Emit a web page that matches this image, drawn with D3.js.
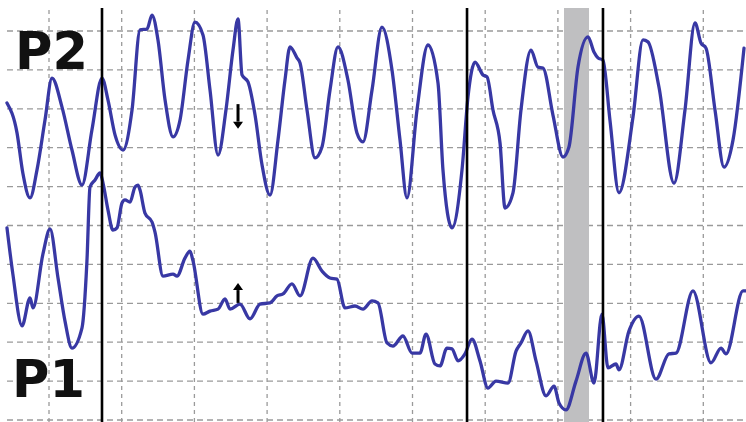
<!DOCTYPE html>
<html>
<head>
<meta charset="utf-8">
<script src="https://cdn.jsdelivr.net/npm/d3@7/dist/d3.min.js"></script>
<style>
  html, body { margin: 0; padding: 0; background: #fff; }
  svg { display: block; }
</style>
</head>
<body>
<svg id="chart" width="746" height="422"></svg>
<script>
// Time in grid divisions, amplitude in grid divisions.
const p2Time = [0.422,0.56,0.64,0.739,0.835,0.945,1.041,1.178,1.316,1.454,1.591,1.729,1.811,1.908,2.018,2.142,2.252,2.348,2.417,2.499,2.596,2.706,2.802,2.912,3.008,3.118,3.215,3.325,3.434,3.531,3.600,3.655,3.737,3.834,3.930,4.040,4.150,4.246,4.315,4.411,4.453,4.549,4.659,4.755,4.865,4.975,5.112,5.236,5.319,5.443,5.580,5.718,5.828,5.924,6.062,6.213,6.351,6.419,6.543,6.681,6.763,6.860,6.970,7.025,7.107,7.204,7.273,7.382,7.492,7.630,7.726,7.795,7.932,8.070,8.152,8.276,8.414,8.496,8.551,8.620,8.716,8.840,9.033,9.170,9.239,9.390,9.597,9.748,9.886,9.968,10.037,10.161,10.285,10.409,10.560];
const p2Value = [8.15,7.38,6.35,5.71,6.43,7.71,8.79,8.05,6.94,6.04,7.46,8.79,8.23,7.33,6.94,7.97,10.03,10.05,10.41,9.77,8.23,7.28,7.71,9.25,10.23,9.90,8.48,6.81,7.97,9.51,10.31,8.87,8.69,7.84,6.56,5.78,7.20,8.74,9.59,9.31,9.18,7.97,6.74,7.02,8.48,9.59,8.74,7.38,7.15,8.48,10.10,9.00,7.20,5.71,7.97,9.64,8.66,6.43,4.94,6.43,8.30,9.20,8.87,8.82,7.97,7.12,5.45,5.84,7.97,9.51,9.07,9.05,7.84,6.76,7.02,9.07,9.85,9.46,9.31,9.25,7.71,5.84,7.79,9.77,9.72,8.56,6.09,7.97,10.21,9.69,9.56,7.97,6.50,7.20,9.56];

const p1Time = [0.422,0.503,0.629,0.739,0.780,0.917,1.014,1.124,1.220,1.316,1.454,1.522,1.564,1.633,1.702,1.743,1.811,1.880,1.935,2.004,2.045,2.114,2.183,2.224,2.252,2.320,2.417,2.458,2.568,2.706,2.761,2.870,2.939,2.981,3.118,3.215,3.325,3.421,3.490,3.627,3.765,3.902,4.040,4.136,4.219,4.342,4.453,4.631,4.755,4.865,4.961,5.071,5.209,5.319,5.443,5.525,5.649,5.731,5.869,5.993,6.103,6.186,6.309,6.378,6.474,6.543,6.626,6.722,6.818,6.928,7.038,7.148,7.314,7.424,7.492,7.589,7.699,7.837,7.947,8.015,8.111,8.249,8.387,8.496,8.606,8.689,8.799,8.840,8.978,9.115,9.349,9.528,9.624,9.858,10.106,10.244,10.312,10.546,10.587];
const p1Value = [4.94,3.75,2.42,3.14,2.88,4.27,4.91,3.65,2.54,1.85,2.37,4.09,5.99,6.17,6.35,6.09,5.40,4.88,4.94,5.58,5.66,5.60,5.99,6.04,5.91,5.32,5.09,4.83,3.70,3.75,3.70,4.16,4.34,4.09,2.72,2.80,2.85,3.11,2.85,2.98,2.60,2.98,3.01,3.19,3.24,3.50,3.19,4.16,3.83,3.65,3.62,2.88,2.93,2.85,3.06,3.01,1.98,1.90,2.16,1.72,1.72,2.21,1.44,1.39,1.85,1.83,1.52,1.70,2.08,1.52,0.82,1.00,0.95,1.77,1.98,2.29,1.52,0.62,0.87,0.44,0.26,1.00,1.72,0.95,2.72,1.34,1.44,1.29,2.29,2.67,1.05,1.70,1.72,3.32,1.47,1.85,1.70,3.32,3.32];

// Grid ticks
const timeTicks = [1,2,3,4,5,6,7,8,9,10];
const ampTicks = [0,1,2,3,4,5,6,7,8,9,10];

// Event markers and highlighted interval
const eventTimes = [1.729, 6.750, 8.620];
const bandStart = [8.084];
const bandEnd = [8.428];

// Arrows: time, tail amplitude, tip amplitude
const arrowTime = [3.6, 3.6];
const arrowTail = [8.12, 3.01];
const arrowTip = [7.49, 3.52];

const traceLabels = ["P2", "P1"];

const W = 746, H = 422;
const svg = d3.select("#chart");

const x = d3.scaleLinear().domain([0, 10]).range([-23.7, 703.3]);
const y = d3.scaleLinear().domain([0, 10]).range([420, 31]);

// Dashed grid
const grid = svg.append("g");
grid.selectAll("line.h").data(ampTicks).join("line")
  .attr("x1", 7).attr("x2", W)
  .attr("y1", d => y(d)).attr("y2", d => y(d))
  .attr("stroke", "#9a9a9a").attr("stroke-width", 1.3)
  .attr("stroke-dasharray", "6,4");
grid.selectAll("line.v").data(timeTicks).join("line")
  .attr("x1", d => x(d)).attr("x2", d => x(d))
  .attr("y1", 10).attr("y2", H)
  .attr("stroke", "#9a9a9a").attr("stroke-width", 1.3)
  .attr("stroke-dasharray", "4,4");

// Highlighted interval
svg.append("rect")
  .attr("x", x(bandStart[0]))
  .attr("y", 8)
  .attr("width", x(bandEnd[0]) - x(bandStart[0]))
  .attr("height", H - 8)
  .attr("fill", "#bfbfc1");

// Traces
const line = d3.line()
  .x(d => x(d[0])).y(d => y(d[1]))
  .curve(d3.curveMonotoneX);

const traces = [d3.zip(p2Time, p2Value), d3.zip(p1Time, p1Value)];
svg.append("g").selectAll("path").data(traces).join("path")
  .attr("d", line)
  .attr("fill", "none")
  .attr("stroke", "#3838a4")
  .attr("stroke-width", 3.3)
  .attr("stroke-linejoin", "round")
  .attr("stroke-linecap", "round");

// Event markers
svg.append("g").selectAll("line").data(eventTimes).join("line")
  .attr("x1", d => x(d)).attr("x2", d => x(d))
  .attr("y1", 8).attr("y2", H)
  .attr("stroke", "#000").attr("stroke-width", 2.6);

// Arrows
const arrows = d3.range(arrowTime.length).map(i => ({t: arrowTime[i], a: arrowTail[i], b: arrowTip[i]}));
const ag = svg.append("g");
arrows.forEach(d => {
  const xa = x(d.t), ya = y(d.a), yb = y(d.b);
  const dir = yb > ya ? 1 : -1;
  const headLen = 7, headHalf = 5;
  ag.append("line")
    .attr("x1", xa).attr("x2", xa)
    .attr("y1", ya).attr("y2", yb - dir * headLen)
    .attr("stroke", "#000").attr("stroke-width", 3);
  ag.append("path")
    .attr("d", `M${xa - headHalf},${yb - dir * headLen}L${xa + headHalf},${yb - dir * headLen}L${xa},${yb}Z`)
    .attr("fill", "#000");
});

// Trace names
svg.append("text").text(traceLabels[0])
  .attr("x", 15).attr("y", 69)
  .attr("font-family", "DejaVu Sans, sans-serif")
  .attr("font-weight", "bold").attr("font-size", 51)
  .attr("fill", "#111");
svg.append("text").text(traceLabels[1])
  .attr("x", 12).attr("y", 397)
  .attr("font-family", "DejaVu Sans, sans-serif")
  .attr("font-weight", "bold").attr("font-size", 51)
  .attr("fill", "#111");
</script>
</body>
</html>
